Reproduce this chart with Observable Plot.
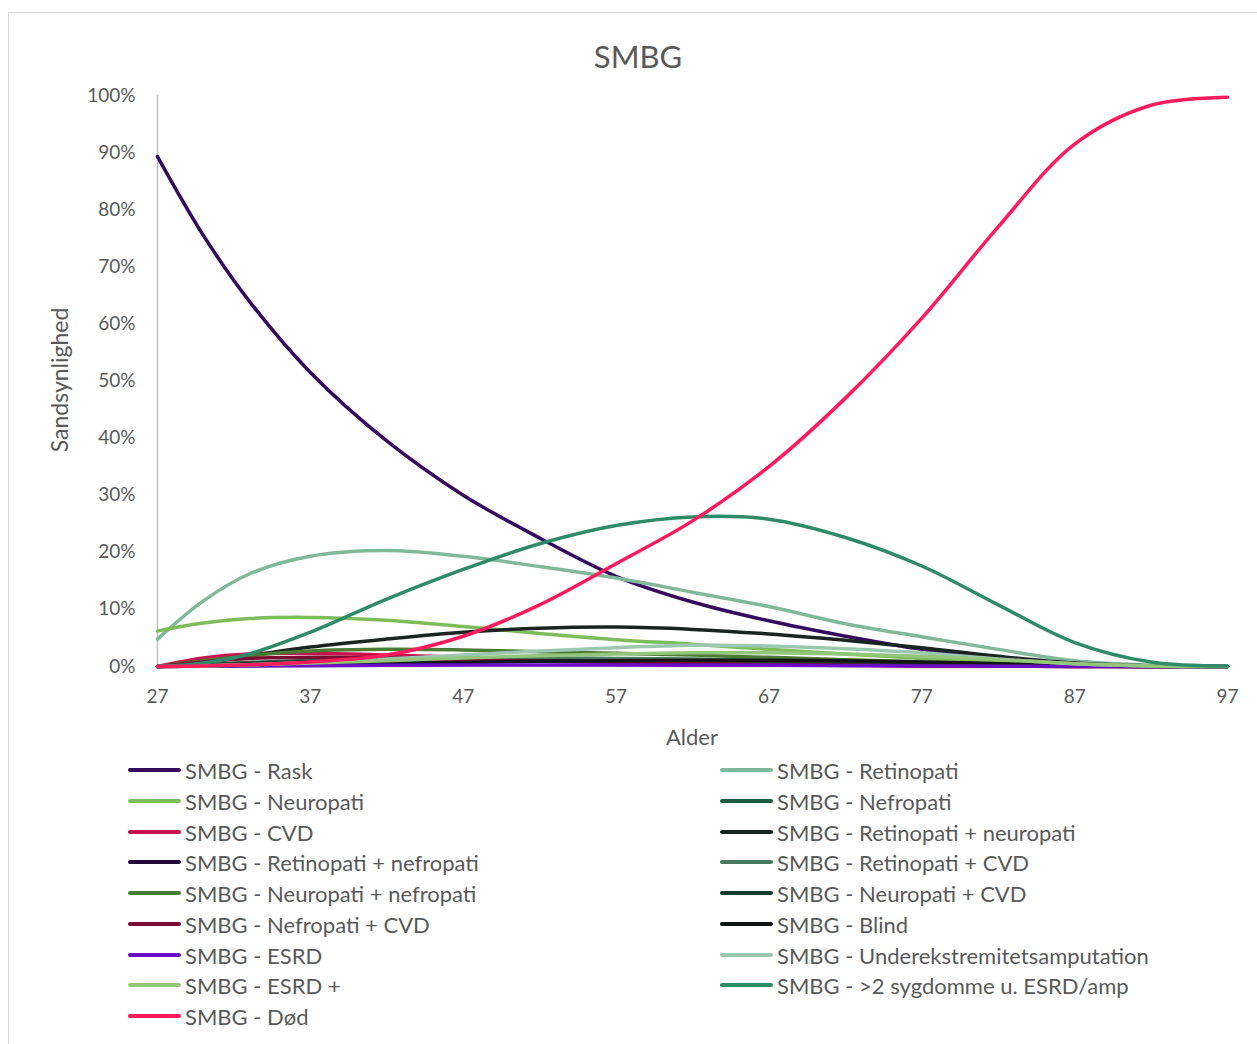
<!DOCTYPE html>
<html>
<head>
<meta charset="utf-8">
<script src="https://cdn.jsdelivr.net/npm/d3@7"></script>
<script src="https://cdn.jsdelivr.net/npm/@observablehq/plot@0.6"></script>
<style>
  html, body { margin: 0; padding: 0; overflow: hidden; background: #fff; }
  body { width: 1257px; height: 1044px; position: relative; font-family: Lato, "Open Sans", sans-serif; color: #595959; }
  #frame { position: absolute; left: 8px; top: 12px; width: 1300px; height: 1100px; border: 1px solid #d9d9d9; box-sizing: border-box; }
  #title { position: absolute; left: 0; width: 1276px; top: 36px; text-align: center; font-size: 31px; line-height: 40px; }
  #ylabel { position: absolute; left: 59px; top: 380px; transform: translate(-50%, -50%) rotate(-90deg); font-size: 23px; white-space: nowrap; }
  #xlabel { position: absolute; left: 692px; top: 736px; transform: translate(-50%, -50%); font-size: 22px; white-space: nowrap; }
  #chart { position: absolute; left: 0; top: 80px; }
  #legend { position: absolute; left: 0; top: 0; }
  .item { position: absolute; display: flex; align-items: center; font-size: 22px; white-space: nowrap; height: 30px; transform: translateY(-50%); }
  .sw { width: 53px; height: 4px; border-radius: 2px; margin-right: 4px; }
</style>
</head>
<body>
<div id="frame"></div>
<div id="title">SMBG</div>
<div id="ylabel">Sandsynlighed</div>
<div id="xlabel">Alder</div>
<div id="chart"></div>
<div id="legend"></div>
<script>
// ---- data (percent) ----
const ages = [27, 30, 33, 37, 42, 47, 52, 57, 62, 67, 72, 77, 82, 87, 92, 97];

const rask        = [89.3, 75.5, 64.0, 51.5, 39.5, 30.0, 22.5, 15.8, 11.3, 8.0, 5.3, 3.0, 1.5, 0.4, 0.1, 0.0];
const retinopati  = [4.8, 11.5, 16.2, 19.3, 20.3, 19.3, 17.5, 15.5, 13.0, 10.5, 7.5, 5.2, 3.0, 1.0, 0.2, 0.0];
const neuropati   = [6.2, 7.6, 8.4, 8.6, 8.1, 7.0, 5.8, 4.7, 3.9, 3.0, 2.2, 1.4, 0.8, 0.3, 0.1, 0.0];
const nefropati   = [0.0, 0.3, 0.6, 0.9, 1.2, 1.3, 1.3, 1.2, 1.1, 0.9, 0.7, 0.5, 0.3, 0.1, 0.0, 0.0];
const cvd         = [0.0, 1.5, 2.2, 2.3, 2.0, 1.6, 1.2, 0.9, 0.6, 0.4, 0.25, 0.15, 0.05, 0.0, 0.0, 0.0];
const retNeu      = [0.0, 0.8, 1.9, 3.4, 4.8, 6.0, 6.7, 6.9, 6.5, 5.7, 4.6, 3.3, 1.8, 0.6, 0.1, 0.0];
const retNef      = [0.0, 0.1, 0.3, 0.6, 0.9, 1.1, 1.2, 1.2, 1.1, 1.0, 0.8, 0.6, 0.3, 0.1, 0.0, 0.0];
const retCvd      = [0.0, 0.3, 0.7, 1.1, 1.4, 1.5, 1.5, 1.4, 1.3, 1.1, 0.9, 0.6, 0.3, 0.1, 0.0, 0.0];
const neuNef      = [0.0, 1.0, 1.9, 2.7, 3.0, 2.9, 2.6, 2.3, 2.0, 1.6, 1.2, 0.8, 0.4, 0.15, 0.0, 0.0];
const neuCvd      = [0.0, 0.3, 0.6, 0.9, 1.1, 1.1, 1.0, 0.9, 0.8, 0.7, 0.5, 0.3, 0.2, 0.1, 0.0, 0.0];
const nefCvd      = [0.0, 0.8, 1.4, 1.6, 1.5, 1.2, 0.9, 0.7, 0.5, 0.35, 0.2, 0.1, 0.05, 0.0, 0.0, 0.0];
const blind       = [0.0, 0.05, 0.15, 0.3, 0.5, 0.7, 0.9, 1.0, 1.1, 1.1, 1.0, 0.8, 0.5, 0.2, 0.05, 0.0];
const esrd        = [0.0, 0.05, 0.1, 0.15, 0.2, 0.25, 0.25, 0.25, 0.2, 0.2, 0.15, 0.1, 0.05, 0.0, 0.0, 0.0];
const amputation  = [0.0, 0.1, 0.3, 0.7, 1.3, 2.0, 2.7, 3.3, 3.7, 3.6, 3.1, 2.4, 1.3, 0.5, 0.1, 0.0];
const esrdPlus    = [0.0, 0.1, 0.3, 0.6, 1.0, 1.5, 1.9, 2.2, 2.4, 2.4, 2.2, 1.8, 1.2, 0.5, 0.1, 0.0];
const over2       = [0.0, 0.6, 2.2, 6.0, 11.8, 17.0, 21.5, 24.7, 26.2, 25.8, 22.6, 17.6, 10.8, 4.2, 0.8, 0.1];
const dod         = [0.0, 0.1, 0.3, 0.8, 2.0, 5.3, 10.8, 18.0, 25.5, 35.0, 47.0, 61.0, 77.0, 91.5, 98.3, 99.7];

const seriesNames = [
  "SMBG - Rask", "SMBG - Retinopati", "SMBG - Neuropati", "SMBG - Nefropati",
  "SMBG - CVD", "SMBG - Retinopati + neuropati", "SMBG - Retinopati + nefropati", "SMBG - Retinopati + CVD",
  "SMBG - Neuropati + nefropati", "SMBG - Neuropati + CVD", "SMBG - Nefropati + CVD", "SMBG - Blind",
  "SMBG - ESRD", "SMBG - Underekstremitetsamputation", "SMBG - ESRD +", "SMBG - >2 sygdomme u. ESRD/amp",
  "SMBG - Død"
];
const seriesColors = [
  "#350a5e", "#80b89c", "#7dbd5c", "#1f5a44",
  "#c9114d", "#1b2420", "#230a38", "#4a7a62",
  "#4b7a34", "#133a2c", "#7a0a32", "#111614",
  "#6a0dc4", "#9cc8b1", "#93c67a", "#2e8a68",
  "#ff1a5e"
];
const seriesValues = [rask, retinopati, neuropati, nefropati, cvd, retNeu, retNef, retCvd,
  neuNef, neuCvd, nefCvd, blind, esrd, amputation, esrdPlus, over2, dod];

const xTicks = [27, 37, 47, 57, 67, 77, 87, 97];
const yTicks = [0, 10, 20, 30, 40, 50, 60, 70, 80, 90, 100];

const series = seriesNames.map((name, i) => ({
  name, color: seriesColors[i],
  points: ages.map((a, j) => ({age: a, value: seriesValues[i][j]}))
}));

const chart = Plot.plot({
  width: 1257,
  height: 676,
  marginLeft: 157,
  marginRight: 30,
  marginTop: 15,
  marginBottom: 90,
  x: {domain: [27, 97]},
  y: {domain: [0, 100]},
  style: {fontFamily: "Lato, 'Open Sans', sans-serif", fontSize: "19px", color: "#595959", background: "transparent"},
  marks: [
    Plot.ruleY([0], {stroke: "#bfbfbf", strokeWidth: 1}),
    Plot.ruleX([27], {stroke: "#bfbfbf", strokeWidth: 1.5}),
    Plot.axisX({ticks: xTicks, tickSize: 0, tickPadding: 23, tickFormat: d => String(d), label: null}),
    Plot.axisY({ticks: yTicks, tickSize: 0, tickPadding: 22, tickFormat: d => d + "%", label: null}),
    ...series.map(s => Plot.line(s.points, {x: "age", y: "value", stroke: s.color, strokeWidth: 3.5, curve: "catmull-rom"}))
  ]
});
document.getElementById("chart").appendChild(chart);

// ---- legend ----
const legend = document.getElementById("legend");
const rowY = [770, 801, 832, 862, 893, 924, 955, 985, 1016];
series.forEach((s, i) => {
  const col = i % 2, row = Math.floor(i / 2);
  const el = document.createElement("div");
  el.className = "item";
  el.style.left = (col === 0 ? 128 : 720) + "px";
  el.style.top = rowY[row] + "px";
  const sw = document.createElement("span");
  sw.className = "sw";
  sw.style.background = s.color;
  const tx = document.createElement("span");
  tx.textContent = s.name;
  el.appendChild(sw); el.appendChild(tx);
  legend.appendChild(el);
});
</script>
</body>
</html>
